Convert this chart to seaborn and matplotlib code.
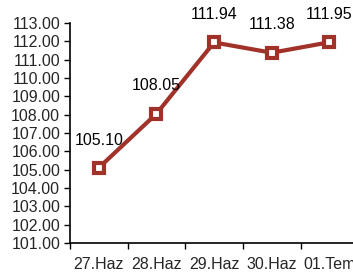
import numpy as np
import pandas as pd
import matplotlib
matplotlib.use('Agg')
import matplotlib.pyplot as plt
import seaborn as sns

# chart data
dates = ['27.Haz', '28.Haz', '29.Haz', '30.Haz', '01.Tem']
values = [105.10, 108.05, 111.94, 111.38, 111.95]
yticks = np.arange(101, 114, 1)

line_color = '#A0322A'

sns.set_style('white')
plt.rcParams['font.family'] = ['Liberation Sans', 'DejaVu Sans']

df = pd.DataFrame({'pos': np.arange(len(dates)), 'value': values})

fig = plt.figure(figsize=(3.53, 2.76), dpi=100)
ax = fig.add_axes([0.198, 0.1196, 0.817, 0.797])

sns.lineplot(data=df, x='pos', y='value', ax=ax, color=line_color, linewidth=3,
             marker='s', markersize=7, markerfacecolor='white',
             markeredgecolor=line_color, markeredgewidth=3,
             solid_joinstyle='round')
for l in ax.lines:
    l.set_markeredgewidth(3)

for x, v in zip(df['pos'], values):
    ax.annotate(f'{v:.2f}', (x, v), xytext=(0, 20), textcoords='offset points',
                ha='center', va='center', fontsize=11.5, color='black')

ax.set_xlim(-0.5, len(dates) - 0.5)
ax.set_ylim(101, 113)
ax.set_yticks(yticks)
ax.set_yticklabels([f'{t:.2f}' for t in yticks], fontsize=11.5)
ax.set_xticks(df['pos'])
ax.set_xticklabels(dates, fontsize=11.5)
ax.set_xticks(np.arange(-0.5, len(dates), 1), minor=True)
ax.tick_params(axis='x', which='major', length=0, pad=10)
ax.tick_params(axis='x', which='minor', length=4, width=1, color='black', bottom=True)
ax.tick_params(axis='y', length=4, width=1, color='black', left=True, pad=3)
ax.set_xlabel('')
ax.set_ylabel('')

for s in ['top', 'right']:
    ax.spines[s].set_visible(False)
for s in ['left', 'bottom']:
    ax.spines[s].set_color('black')
    ax.spines[s].set_linewidth(1.2)

fig.savefig('out.png', dpi=100)
